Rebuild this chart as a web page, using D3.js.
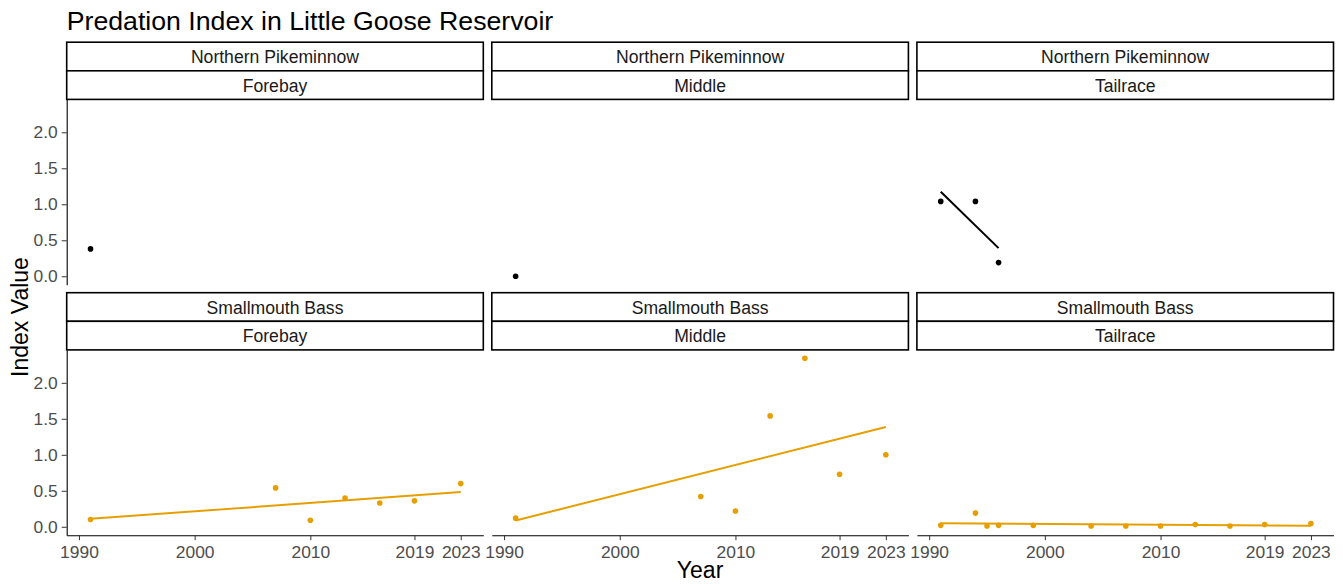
<!DOCTYPE html>
<html>
<head>
<meta charset="utf-8">
<script src="https://cdn.jsdelivr.net/npm/d3@7"></script>
<style>
  body { margin: 0; background: #fff; }
  svg { display: block; }
  text { font-family: "Liberation Sans", Arial, sans-serif; }
</style>
</head>
<body>
<svg id="chart" width="1343" height="584"></svg>
<script>
// Facet rows and columns
const species = ["Northern Pikeminnow", "Smallmouth Bass"];
const locations = ["Forebay", "Middle", "Tailrace"];
const speciesColors = ["#000000", "#E69F00"];

// Axis ticks
const xTicks = [1990, 2000, 2010, 2019, 2023];
const yTicks = [0, 0.5, 1, 1.5, 2];

// Northern Pikeminnow predation index by location
const npmForebayYears = [1991];
const npmForebayValues = [0.38];
const npmMiddleYears = [1991];
const npmMiddleValues = [0.0];
const npmTailraceYears = [1991, 1994, 1996];
const npmTailraceValues = [1.04, 1.04, 0.19];

// Smallmouth Bass predation index by location
const smbForebayYears = [1991, 2007, 2010, 2013, 2016, 2019, 2023];
const smbForebayValues = [0.10, 0.54, 0.09, 0.40, 0.33, 0.36, 0.60];
const smbMiddleYears = [1991, 2007, 2010, 2013, 2016, 2019, 2023];
const smbMiddleValues = [0.12, 0.42, 0.22, 1.54, 2.34, 0.73, 1.00];
const smbTailraceYears = [1991, 1994, 1995, 1996, 1999, 2004, 2007, 2010, 2013, 2016, 2019, 2023];
const smbTailraceValues = [0.02, 0.19, 0.01, 0.02, 0.02, 0.01, 0.01, 0.01, 0.03, 0.01, 0.03, 0.045];

const seriesTable = [
  [ [npmForebayYears, npmForebayValues], [npmMiddleYears, npmMiddleValues], [npmTailraceYears, npmTailraceValues] ],
  [ [smbForebayYears, smbForebayValues], [smbMiddleYears, smbMiddleValues], [smbTailraceYears, smbTailraceValues] ]
];

// Layout
const plotLeft = 66.7, plotRight = 1333.5, colGap = 8.5;
const panelW = (plotRight - plotLeft - 2 * colGap) / 3;
const stripTop = 42.2, stripH = 28.6, panelH = 185.3, rowGap = 8;
const rowTop = r => stripTop + r * (2 * stripH + panelH + rowGap);
const panelTop = r => rowTop(r) + 2 * stripH;
const colLeft = c => plotLeft + c * (panelW + colGap);

const svg = d3.select("#chart");

// Shared scales (fixed across facets)
const x = d3.scaleLinear().domain([1988.94, 2024.95]).range([0, panelW]);
const allValues = seriesTable.flat().flatMap(s => s[1]);
const yMin = d3.min(allValues), yMax = d3.max(allValues);
const pad = (yMax - yMin) * 0.05;
const y = d3.scaleLinear().domain([yMin - pad, yMax + pad]).range([panelH, 0]);

// Least-squares line through a group
function linearFit(xs, ys) {
  const mx = d3.mean(xs), my = d3.mean(ys);
  let sxy = 0, sxx = 0;
  xs.forEach((v, i) => { sxy += (v - mx) * (ys[i] - my); sxx += (v - mx) * (v - mx); });
  const b = sxy / sxx, a = my - b * mx;
  const lo = d3.min(xs), hi = d3.max(xs);
  return [[lo, a + b * lo], [hi, a + b * hi]];
}

species.forEach((sp, r) => {
  locations.forEach((loc, c) => {
    const g = svg.append("g").attr("transform", `translate(${colLeft(c)},${rowTop(r)})`);

    // strip labels
    [sp, loc].forEach((label, k) => {
      g.append("rect")
        .attr("x", 0).attr("y", k * stripH)
        .attr("width", panelW).attr("height", stripH)
        .attr("fill", "#fff").attr("stroke", "#000").attr("stroke-width", 1.6);
      g.append("text")
        .attr("x", panelW / 2).attr("y", k * stripH + stripH / 2 + 6.6)
        .attr("text-anchor", "middle")
        .attr("font-size", 17.6).attr("fill", "#1A1A1A")
        .text(label);
    });

    const p = svg.append("g").attr("transform", `translate(${colLeft(c)},${panelTop(r)})`);
    const [years, vals] = seriesTable[r][c];
    const pts = years.map((yr, i) => [yr, vals[i]]);
    const color = speciesColors[r];

    if (years.length > 2) {
      const fit = linearFit(years, vals);
      p.append("path")
        .attr("d", d3.line().x(d => x(d[0])).y(d => y(d[1]))(fit))
        .attr("fill", "none").attr("stroke", color).attr("stroke-width", 2);
    }

    p.selectAll("circle").data(pts).join("circle")
      .attr("cx", d => x(d[0])).attr("cy", d => y(d[1]))
      .attr("r", 2.8).attr("fill", color);

    // y axis on the first column only
    if (c === 0) {
      const ya = p.append("g").call(
        d3.axisLeft(y).tickValues(yTicks).tickFormat(d3.format(".1f"))
          .tickSize(5).tickPadding(4).tickSizeOuter(0));
      ya.select(".domain").attr("stroke", "#000").attr("stroke-width", 1.1);
      ya.selectAll(".tick line").attr("stroke", "#333");
      ya.selectAll(".tick text").attr("font-size", 17.4).attr("fill", "#4D4D4D")
        .attr("font-family", "Liberation Sans, Arial, sans-serif");
    }

    // x axis on the bottom row only
    if (r === species.length - 1) {
      const xa = p.append("g").attr("transform", `translate(0,${panelH})`).call(
        d3.axisBottom(x).tickValues(xTicks).tickFormat(d3.format("d"))
          .tickSize(5).tickPadding(5).tickSizeOuter(0));
      xa.select(".domain").attr("stroke", "#000").attr("stroke-width", 1.1);
      xa.selectAll(".tick line").attr("stroke", "#333");
      xa.selectAll(".tick text").attr("font-size", 17.4).attr("fill", "#4D4D4D")
        .attr("font-family", "Liberation Sans, Arial, sans-serif");
    }
  });
});

// Titles
svg.append("text")
  .attr("x", plotLeft).attr("y", 30)
  .attr("font-size", 26.7).attr("fill", "#000")
  .text("Predation Index in Little Goose Reservoir");

svg.append("text")
  .attr("x", (plotLeft + plotRight) / 2).attr("y", 578)
  .attr("text-anchor", "middle")
  .attr("font-size", 23).attr("fill", "#000")
  .text("Year");

svg.append("text")
  .attr("transform", "translate(28,317) rotate(-90)")
  .attr("text-anchor", "middle")
  .attr("font-size", 23).attr("fill", "#000")
  .text("Index Value");
</script>
</body>
</html>
